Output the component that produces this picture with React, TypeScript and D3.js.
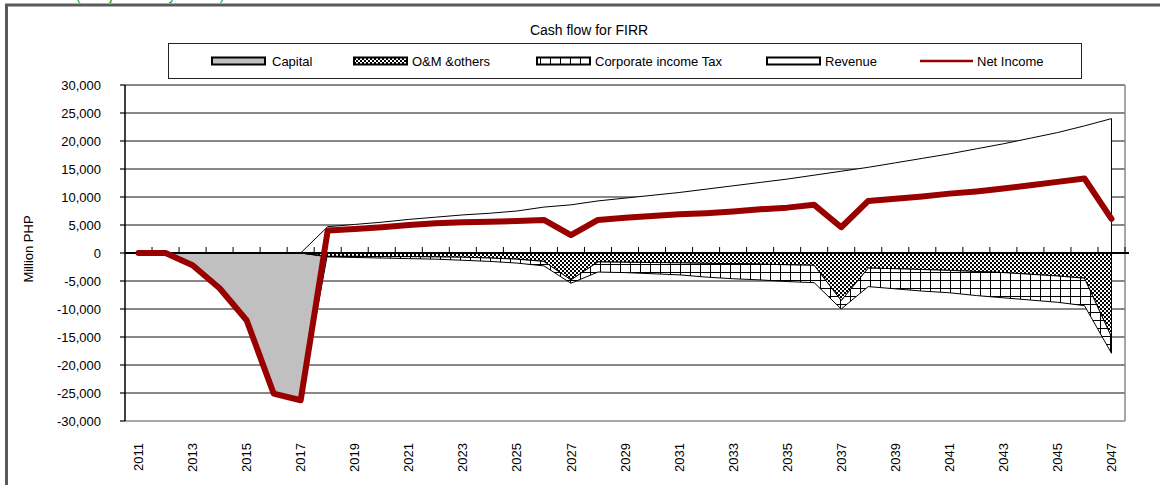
import React from 'react';
import * as d3 from 'd3';

// categories
const years = [
  2011, 2012, 2013, 2014, 2015, 2016, 2017, 2018, 2019, 2020, 2021, 2022, 2023,
  2024, 2025, 2026, 2027, 2028, 2029, 2030, 2031, 2032, 2033, 2034, 2035, 2036,
  2037, 2038, 2039, 2040, 2041, 2042, 2043, 2044, 2045, 2046, 2047,
];

// series (Million PHP)
const capital = [
  0, 0, -2200, -6300, -12000, -25100, -26300,
  0, 0, 0, 0, 0, 0, 0, 0, 0, 0, 0, 0, 0, 0, 0,
  0, 0, 0, 0, 0, 0, 0, 0, 0, 0, 0, 0, 0, 0, 0,
];
const omOthers = [
  0, 0, 0, 0, 0, 0, 0,
  -600, -600, -650, -650, -700, -750, -900, -1100, -1500, -4800,
  -1600, -1650, -1700, -1750, -1850, -1900, -2000, -2100, -2200, -8500,
  -2700, -2800, -2950, -3100, -3300, -3500, -3800, -4100, -4500, -15000,
];
const corpTax = [
  0, 0, 0, 0, 0, 0, 0,
  -100, -200, -250, -350, -400, -550, -600, -700, -800, -600,
  -1800, -1850, -2000, -2150, -2450, -2700, -2800, -3000, -3100, -1500,
  -3300, -3600, -3850, -4000, -4300, -4500, -4600, -4700, -4900, -2900,
];
const revenue = [
  0, 0, 0, 0, 0, 0, 0,
  4700, 5100, 5500, 6000, 6400, 6800, 7100, 7500, 8200, 8600,
  9300, 9800, 10300, 10800, 11400, 12000, 12600, 13200, 13900, 14600,
  15300, 16100, 16900, 17700, 18600, 19500, 20500, 21500, 22700, 24000,
];
const netIncome = [
  0, 0, -2200, -6300, -12000, -25100, -26300,
  4000, 4300, 4600, 5000, 5300, 5500, 5600, 5700, 5900, 3200,
  5900, 6300, 6600, 6900, 7100, 7400, 7800, 8100, 8600, 4600,
  9300, 9700, 10100, 10600, 11000, 11500, 12100, 12700, 13300, 6100,
];

const yTicks = [-30000, -25000, -20000, -15000, -10000, -5000, 0, 5000, 10000, 15000, 20000, 25000, 30000];
const xLabelYears = years.filter((_, i) => i % 2 === 0);

const W = 1160;
const H = 485;
const plot = { left: 125, right: 1125, top: 85, bottom: 421 };
const FONT = '"Liberation Sans", Arial, sans-serif';
const RED = '#990000';

export default function App() {
  const x = d3.scaleBand<number>().domain(years).range([plot.left, plot.right]);
  const bw = x.bandwidth();
  const cx = (yr: number) => (x(yr) as number) + bw / 2;
  const y = d3.scaleLinear().domain([-30000, 30000]).range([plot.bottom, plot.top]);
  // plain hyphen for negatives, like the original
  const fmt = d3.formatLocale({ decimal: '.', thousands: ',', grouping: [3], currency: ['', ''], minus: '-' }).format(',');

  const rows = years.map((yr, i) => ({
    year: yr,
    capital: capital[i],
    om: omOthers[i],
    tax: corpTax[i],
    revenue: revenue[i],
  }));
  const keys = ['capital', 'om', 'tax', 'revenue'];
  const series = d3.stack<any>().keys(keys).offset(d3.stackOffsetDiverging)(rows);
  const fills: Record<string, string> = {
    capital: '#c0c0c0',
    om: 'url(#pat-om)',
    tax: 'url(#pat-tax)',
    revenue: '#ffffff',
  };

  const area = d3
    .area<any>()
    .x((d) => cx(d.data.year))
    .y0((d) => y(d[0]))
    .y1((d) => y(d[1]));

  const line = d3
    .line<number>()
    .x((_, i) => cx(years[i]))
    .y((d) => y(d));

  const y0 = y(0);

  const legend = [
    { label: 'Capital', fill: '#c0c0c0', x: 212, tx: 272 },
    { label: 'O&M &others', fill: 'url(#pat-om)', x: 354, tx: 412 },
    { label: 'Corporate income Tax', fill: 'url(#pat-tax)', x: 537, tx: 595 },
    { label: 'Revenue', fill: '#ffffff', x: 767, tx: 825 },
  ];

  return (
    <svg
      width={W}
      height={H}
      style={{ position: 'absolute', left: 0, top: 0, background: '#fff' }}
      fontFamily={FONT}
    >
      <defs>
        <pattern id='pat-om' width={4} height={4} patternUnits='userSpaceOnUse'>
          <rect width={4} height={4} fill='#fff' />
          <rect width={2} height={2} fill='#000' />
          <rect x={2} y={2} width={2} height={2} fill='#000' />
        </pattern>
        <pattern id='pat-tax' width={10} height={8} patternUnits='userSpaceOnUse'>
          <rect width={10} height={8} fill='#fff' />
          <path d='M0.5,0V8M0,0.5H10' stroke='#000' strokeWidth={1} />
        </pattern>
      </defs>

      {/* note above the frame, cut off by the page edge as in the original */}
      <text x={76} y={-0.5} fontSize={13} fill='#009900' textLength={148} lengthAdjust='spacing'>
        (Project only case)
      </text>

      {/* outer frame */}
      <rect x={6.5} y={5} width={1300} height={700} fill='#fff' stroke='#5a5a5a' strokeWidth={3} />

      {/* title */}
      <text x={589} y={35} fontSize={14} textAnchor='middle' fill='#000'>
        Cash flow for FIRR
      </text>

      {/* legend */}
      <rect x={168.5} y={43.5} width={913} height={35} fill='#fff' stroke='#222' strokeWidth={1} />
      {legend.map((d) => (
        <g key={d.label}>
          <rect x={d.x} y={57.5} width={53} height={7} fill={d.fill} stroke='#000' strokeWidth={2} />
          <text x={d.tx} y={66} fontSize={13} fill='#000'>
            {d.label}
          </text>
        </g>
      ))}
      <line x1={920} x2={973} y1={61} y2={61} stroke={RED} strokeWidth={2.5} />
      <text x={977} y={66} fontSize={13} fill='#000'>
        Net Income
      </text>

      {/* gridlines */}
      {yTicks
        .filter((t) => t !== 0 && t !== -30000)
        .map((t) => (
          <line key={t} x1={plot.left} x2={plot.right} y1={y(t)} y2={y(t)} stroke='#111' strokeWidth={1.2} />
        ))}
      {/* plot border right / bottom */}
      <line x1={plot.right} x2={plot.right} y1={plot.top} y2={plot.bottom} stroke='#8a8a8a' strokeWidth={1.5} />
      <line x1={plot.left} x2={plot.right} y1={plot.bottom} y2={plot.bottom} stroke='#8a8a8a' strokeWidth={1.5} />

      {/* stacked areas */}
      {series.map((s) => (
        <path
          key={s.key}
          d={area(s as any) || ''}
          fill={fills[s.key]}
          stroke='#000'
          strokeWidth={1}
          strokeLinejoin='miter'
        />
      ))}

      {/* category axis at zero */}
      <line x1={plot.left} x2={plot.right + 4} y1={y0} y2={y0} stroke='#000' strokeWidth={1.8} />
      {years.map((_, i) => (
        <line
          key={i}
          x1={plot.left + (i + 1) * bw}
          x2={plot.left + (i + 1) * bw}
          y1={y0 - 6}
          y2={y0}
          stroke='#000'
          strokeWidth={1}
        />
      ))}

      {/* net income */}
      <path
        d={line(netIncome) || ''}
        fill='none'
        stroke={RED}
        strokeWidth={6}
        strokeLinejoin='round'
        strokeLinecap='round'
      />

      {/* value axis */}
      <line x1={plot.left} x2={plot.left} y1={plot.top} y2={plot.bottom} stroke='#000' strokeWidth={1.5} />
      {yTicks.map((t) => (
        <g key={t}>
          <line x1={plot.left - 5} x2={plot.left} y1={y(t)} y2={y(t)} stroke='#000' strokeWidth={1.2} />
          <text x={101} y={y(t) + 4.6} fontSize={13} textAnchor='end' fill='#000'>
            {fmt(t)}
          </text>
        </g>
      ))}
      <text
        transform={`translate(${32.5},${249}) rotate(-90)`}
        fontSize={13}
        textAnchor='middle'
        fill='#000'
      >
        Million PHP
      </text>

      {/* year labels */}
      {xLabelYears.map((yr) => (
        <text
          key={yr}
          transform={`translate(${cx(yr) + 4.6},${443}) rotate(-90)`}
          fontSize={13}
          textAnchor='end'
          fill='#000'
        >
          {yr}
        </text>
      ))}
    </svg>
  );
}
